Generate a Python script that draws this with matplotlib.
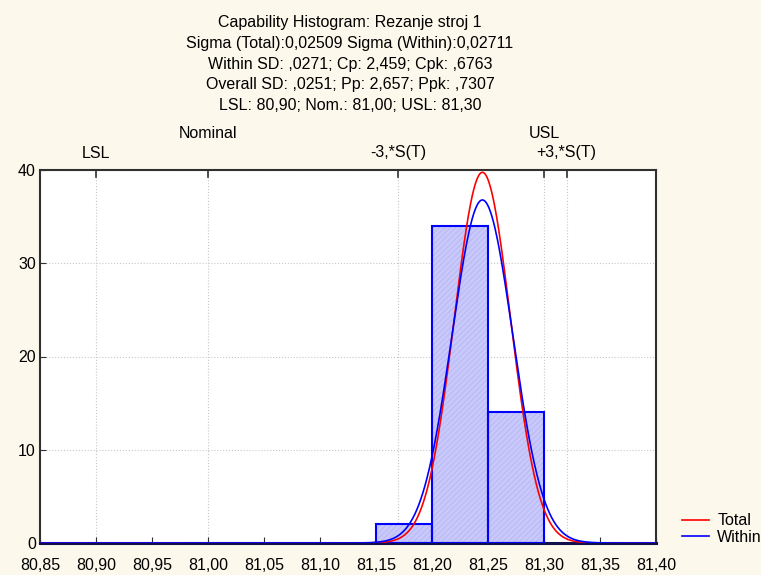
import numpy as np
import matplotlib
matplotlib.use('Agg')
import matplotlib.pyplot as plt

plt.rcParams['font.family'] = ['Liberation Sans', 'DejaVu Sans']
plt.rcParams['hatch.color'] = '#aeaef2'
plt.rcParams['hatch.linewidth'] = 0.4

# histogram bins (lower edge) and counts
bin_edges = [81.15, 81.20, 81.25]
counts = [2, 34, 14]
bin_width = 0.05

# process statistics shown in the header
mean = 81.245
sigma_total = 0.02509
sigma_within = 0.02711
n_obs = 50

lsl, nominal, usl = 80.90, 81.00, 81.30

title_lines = [
    "Capability Histogram: Rezanje stroj 1",
    "Sigma (Total):0,02509 Sigma (Within):0,02711",
    "Within SD: ,0271; Cp: 2,459; Cpk: ,6763",
    "Overall SD: ,0251; Pp: 2,657; Ppk: ,7307",
    "LSL: 80,90; Nom.: 81,00; USL: 81,30",
]

x_ticks = [80.85, 80.90, 80.95, 81.00, 81.05, 81.10, 81.15, 81.20,
           81.25, 81.30, 81.35, 81.40]
y_ticks = [0, 10, 20, 30, 40]

bg = '#fdf8ec'
fs = 11.5
fig = plt.figure(figsize=(7.61, 5.75), dpi=100, facecolor=bg)
ax = fig.add_axes([40 / 761, 32 / 575, 616 / 761, 373 / 575])
ax.set_facecolor('white')

# bars: hatched fill, then blue outline
ax.bar(bin_edges, counts, width=bin_width, align='edge', color='#c8c8fa',
       hatch='//////', zorder=2)
ax.bar(bin_edges, counts, width=bin_width, align='edge', fill=False,
       edgecolor='#0000ff', linewidth=1.5, zorder=3)


def normal_curve(x, mu, s):
    return n_obs * bin_width * np.exp(-0.5 * ((x - mu) / s) ** 2) / (s * np.sqrt(2 * np.pi))


xs = np.linspace(80.85, 81.40, 1200)
ax.plot(xs, normal_curve(xs, mean, sigma_total), color='#ff0000', lw=1.2, label='Total', zorder=4)
ax.plot(xs, normal_curve(xs, mean, sigma_within), color='#0000ff', lw=1.2, label='Within', zorder=4)

ax.set_xlim(80.85, 81.40)
ax.set_ylim(0, 40)
ax.set_xticks(x_ticks)
ax.set_xticklabels([f"{v:.2f}".replace('.', ',') for v in x_ticks], fontsize=fs)
ax.set_yticks(y_ticks)
ax.set_yticklabels([str(v) for v in y_ticks], fontsize=fs)
ax.tick_params(direction='in', length=4, color='#303030')
ax.tick_params(axis='x', pad=11)
ax.tick_params(axis='y', pad=3)
ax.grid(True, axis='y', color='#c8c8c8', linestyle=':', linewidth=0.8)
for sp in ax.spines.values():
    sp.set_color('#303030')
    sp.set_linewidth(1.5)
ax.spines['bottom'].set_color('#10104a')
ax.spines['bottom'].set_linewidth(2.2)

# specification / sigma markers on top axis
spec_pos = [lsl, nominal, mean - 3 * sigma_total, usl, mean + 3 * sigma_total]
spec_labels = ["LSL", "Nominal", "-3,*S(T)", "USL", "+3,*S(T)"]
for p in spec_pos:
    ax.axvline(p, color='#c8c8c8', linestyle=':', linewidth=0.8, zorder=1)
    ax.plot([p, p], [40, 39.2], color='#303030', lw=1.2, clip_on=False, zorder=5)
upper = {"Nominal", "USL"}
for p, lab in zip(spec_pos, spec_labels):
    y = 575 - 133 if lab in upper else 575 - 153
    xf = (40 + (p - 80.85) / 0.55 * 616) / 761
    fig.text(xf, y / 575, lab, ha='center', va='center', fontsize=fs)

for i, line in enumerate(title_lines):
    fig.text(350 / 761, (575 - 23 - 20.6 * i) / 575, line, ha='center', va='center', fontsize=fs)

fig.legend(loc='lower left', bbox_to_anchor=(674 / 761, 22 / 575), frameon=False,
           fontsize=fs, handlelength=1.7, handletextpad=0.5, labelspacing=0.1,
           borderpad=0)

fig.savefig('out.png', dpi=100, facecolor=bg)
